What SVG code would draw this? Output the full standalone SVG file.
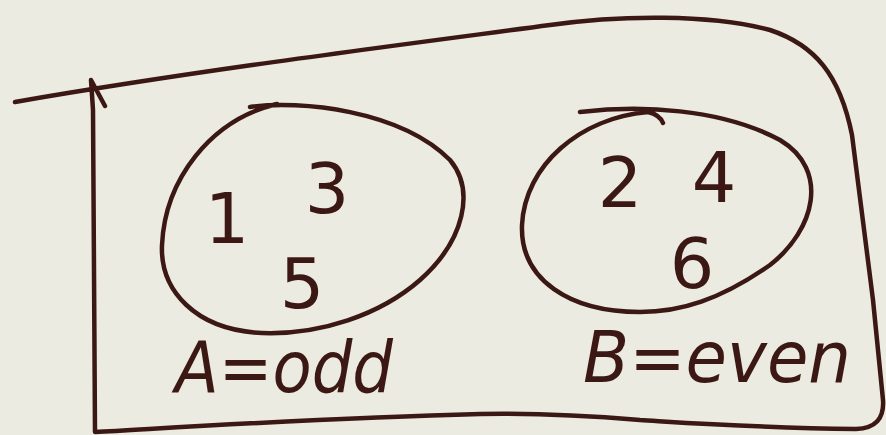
<svg xmlns="http://www.w3.org/2000/svg" width="886" height="435" viewBox="0 0 886 435">
  <style>
    .ink { fill: none; stroke: #3b1814; stroke-width: 4.5; stroke-linecap: round; stroke-linejoin: round; }
    .num { font-family: "DejaVu Sans", "Liberation Sans", sans-serif; font-size: 70px; fill: #3b1814; text-anchor: middle; }
    .lbl { font-family: "DejaVu Sans", "Liberation Sans", sans-serif; font-size: 72px; fill: #3b1814; font-style: italic; }
  </style>
  <rect width="886" height="435" fill="#ebebe2"/>
  <g id="universe">
    <path class="ink" d="M15,102 C 200,70 400,45 550,25 C 620,15 710,14 770,30 C 815,45 840,75 852,135 L 873,300 L 883,400 Q 885,428 856,429 C 760,428 690,423 640,420 C 580,415 530,413 480,414 C 320,418 170,428 95,432 L 93,110 L 91,80 L 105,106"/>
  </g>
  <g id="setA">
    <path class="ink" d="M250,107 C 300,100 400,110 450,160 C 475,190 465,240 420,280 C 380,315 320,335 262,333 C 195,330 160,290 162,245 C 165,180 210,120 277,104"/>
    <text class="num" x="227" y="243">1</text>
    <text class="num" x="327" y="213">3</text>
    <text class="num" x="302" y="308">5</text>
    <text class="lbl" x="175" y="392" textLength="218" lengthAdjust="spacingAndGlyphs">A=odd</text>
  </g>
  <g id="setB">
    <path class="ink" d="M580,112 C 640,105 720,108 780,140 C 830,170 815,230 770,265 C 720,300 680,312 640,312 C 570,312 520,280 522,225 C 525,165 580,118 648,112 Q 660,115 663,123"/>
    <text class="num" x="620" y="207">2</text>
    <text class="num" x="714" y="202">4</text>
    <text class="num" x="692" y="288">6</text>
    <text class="lbl" x="583" y="382" textLength="268" lengthAdjust="spacingAndGlyphs">B=even</text>
  </g>
</svg>
